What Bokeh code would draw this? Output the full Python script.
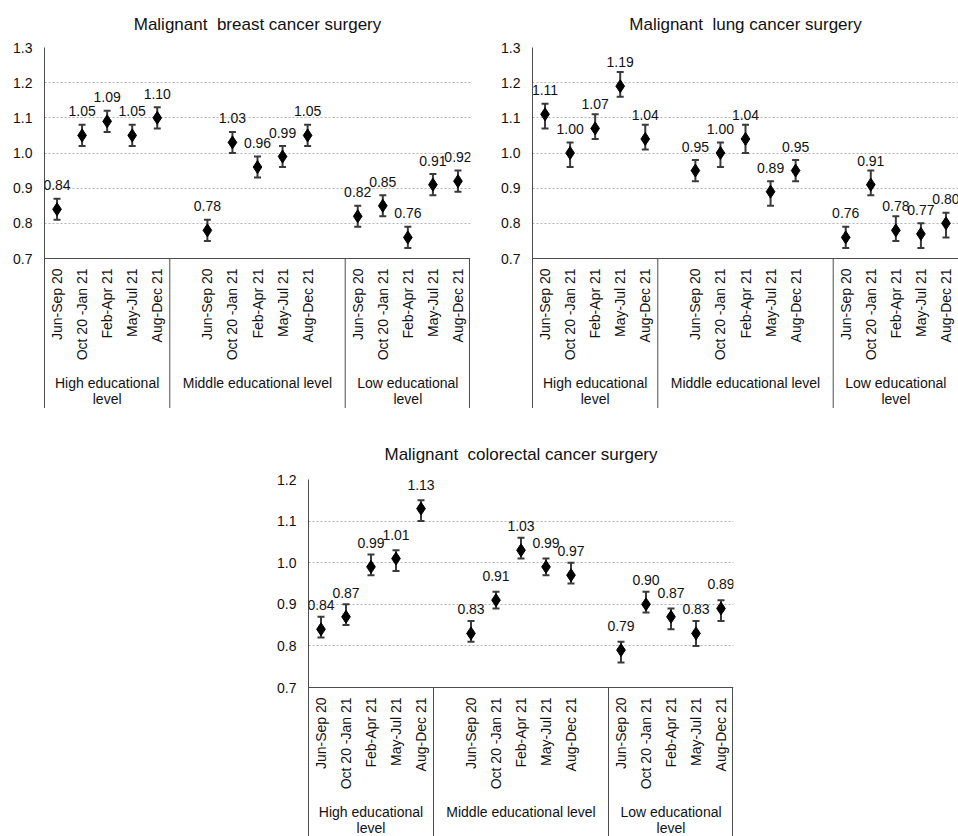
import math
from bokeh.plotting import figure
from bokeh.models import (FactorRange, ColumnDataSource, Whisker, TeeHead, FixedTicker,
                          PrintfTickFormatter, Span, LabelSet, Spacer, Range1d)
from bokeh.layouts import column, row
from bokeh.embed import file_html
from bokeh.resources import INLINE
from bokeh.core.properties import value

# ---------------- data ----------------
periods = ["Jun-Sep 20", "Oct 20 -Jan 21", "Feb-Apr 21", "May-Jul 21", "Aug-Dec 21"]
levels = ["High educational level", "Middle educational level", "Low educational level"]
level_labels = ["High educational\nlevel", "Middle educational level", "Low educational\nlevel"]

breast_values = [0.84, 1.05, 1.09, 1.05, 1.10,
                 0.78, 1.03, 0.96, 0.99, 1.05,
                 0.82, 0.85, 0.76, 0.91, 0.92]
breast_lower = [0.81, 1.02, 1.06, 1.02, 1.07,
                0.75, 1.00, 0.93, 0.96, 1.02,
                0.79, 0.82, 0.73, 0.88, 0.89]
breast_upper = [0.87, 1.08, 1.12, 1.08, 1.13,
                0.81, 1.06, 0.99, 1.02, 1.08,
                0.85, 0.88, 0.79, 0.94, 0.95]

lung_values = [1.11, 1.00, 1.07, 1.19, 1.04,
               0.95, 1.00, 1.04, 0.89, 0.95,
               0.76, 0.91, 0.78, 0.77, 0.80]
lung_lower = [1.07, 0.96, 1.04, 1.16, 1.01,
              0.92, 0.96, 1.00, 0.85, 0.92,
              0.73, 0.88, 0.75, 0.73, 0.76]
lung_upper = [1.14, 1.03, 1.11, 1.23, 1.08,
              0.98, 1.03, 1.08, 0.92, 0.98,
              0.79, 0.95, 0.82, 0.80, 0.83]

colorectal_values = [0.84, 0.87, 0.99, 1.01, 1.13,
                     0.83, 0.91, 1.03, 0.99, 0.97,
                     0.79, 0.90, 0.87, 0.83, 0.89]
colorectal_lower = [0.82, 0.85, 0.97, 0.98, 1.10,
                    0.81, 0.89, 1.01, 0.97, 0.95,
                    0.76, 0.88, 0.84, 0.80, 0.86]
colorectal_upper = [0.87, 0.90, 1.02, 1.03, 1.15,
                    0.86, 0.93, 1.06, 1.01, 1.00,
                    0.81, 0.93, 0.89, 0.86, 0.91]

ticks_top = [0.7, 0.8, 0.9, 1.0, 1.1, 1.2, 1.3]
ticks_bottom = [0.7, 0.8, 0.9, 1.0, 1.1, 1.2]

FONT = "Liberation Sans"
AXIS_COLOR = "#4d4d4d"
BAR_COLOR = "#3a3a3a"


def make_chart(title, values, lower, upper, ticks, width, height,
               border_left, border_right, border_top, ppu, title_standoff, right_border=True):
    factors = []
    for lv in levels:
        if lv == levels[1]:
            factors.append((lv, "pad_a"))
        for pr in periods:
            factors.append((lv, pr))
        if lv == levels[1]:
            factors.append((lv, "pad_b"))
    x_range = FactorRange(*factors, factor_padding=0, group_padding=0, range_padding=0)

    frame_h = height - border_top
    y_top = ticks[-1]
    base = ticks[0]
    y_start = y_top - frame_h / ppu

    def px(d):
        return d / ppu

    p = figure(x_range=x_range, y_range=Range1d(y_start, y_top),
               width=width, height=height, output_backend="svg",
               toolbar_location=None, x_axis_location=None,
               min_border_left=border_left, min_border_right=border_right,
               min_border_top=border_top, min_border_bottom=0)
    p.outline_line_color = None
    p.background_fill_color = "white"
    p.border_fill_color = "white"

    p.title.text = title
    p.title.align = "center"
    p.title.vertical_align = "top"
    p.title.text_font = FONT
    p.title.text_font_size = "17px"
    p.title.text_font_style = "normal"
    p.title.text_color = "#111111"
    p.title.standoff = title_standoff

    ax = p.yaxis[0]
    ax.ticker = FixedTicker(ticks=ticks)
    ax.formatter = PrintfTickFormatter(format="%.1f")
    ax.major_tick_line_color = None
    ax.minor_tick_line_color = None
    ax.major_tick_out = 0
    ax.major_tick_in = 0
    ax.major_label_standoff = 12
    ax.axis_line_color = AXIS_COLOR
    ax.major_label_text_font = FONT
    ax.major_label_text_font_size = "14px"
    ax.major_label_text_color = "#111111"

    p.xgrid.visible = False
    p.ygrid.ticker = FixedTicker(ticks=ticks[1:])
    p.ygrid.grid_line_color = "#b3b3b3"
    p.ygrid.grid_line_dash = "2 2"
    p.ygrid.grid_line_width = 1

    p.add_layout(Span(location=base, dimension="width", line_color=AXIS_COLOR, line_width=1))

    sep_x = [(levels[0], periods[-1], 0.5), (levels[1], "pad_b", 0.5)]
    if right_border:
        sep_x.append((levels[2], periods[-1], 0.46))
    seps = ColumnDataSource(dict(x=sep_x, y0=[base] * len(sep_x), y1=[y_start] * len(sep_x)))
    p.segment(x0="x", y0="y0", x1="x", y1="y1", source=seps, line_color=AXIS_COLOR, line_width=1)

    xs = [(lv, pr) for lv in levels for pr in periods]
    src = ColumnDataSource(dict(x=xs, y=values, lower=lower, upper=upper,
                                label=["%.2f" % v for v in values]))

    wh = Whisker(source=src, base="x", upper="upper", lower="lower", dimension="height",
                 line_color=BAR_COLOR, line_width=2, level="underlay",
                 upper_head=TeeHead(size=7, line_color=BAR_COLOR, line_width=2),
                 lower_head=TeeHead(size=7, line_color=BAR_COLOR, line_width=2))
    p.add_layout(wh)

    p.scatter(x="x", y="y", source=src, marker="diamond", size=13,
              fill_color="black", line_color="black")

    labels = LabelSet(x="x", y="y", text="label", source=src, y_offset=24,
                      text_align="center", text_baseline="middle",
                      text_font=value(FONT), text_font_size="14px", text_color="#111111")
    p.add_layout(labels)

    sub = ColumnDataSource(dict(x=xs, y=[base - px(10)] * len(xs), text=periods * 3))
    p.text(x="x", y="y", text="text", source=sub, angle=math.pi / 2,
           text_align="right", text_baseline="middle",
           text_font=value(FONT), text_font_size="14px", text_color="#111111")

    grp = ColumnDataSource(dict(x=levels, y=[base - px(116)] * 3, text=level_labels))
    p.text(x="x", y="y", text="text", source=grp, text_align="center", text_baseline="top",
           text_line_height=1.0,
           text_font=value(FONT), text_font_size="14px", text_color="#111111")
    return p


p1 = make_chart("Malignant\u00a0 breast cancer surgery", breast_values, breast_lower, breast_upper,
                ticks_top, width=480, height=408, border_left=44, border_right=10,
                border_top=47, ppu=211 / 0.6, title_standoff=24)
p2 = make_chart("Malignant\u00a0 lung cancer surgery", lung_values, lung_lower, lung_upper,
                ticks_top, width=478, height=408, border_left=52, border_right=0,
                border_top=47, ppu=211 / 0.6, title_standoff=24, right_border=False)
p3 = make_chart("Malignant\u00a0 colorectal cancer surgery", colorectal_values, colorectal_lower,
                colorectal_upper, ticks_bottom, width=483, height=408, border_left=48,
                border_right=10, border_top=51, ppu=208 / 0.5, title_standoff=27)

layout = column(row(p1, p2),
                Spacer(width=958, height=20),
                row(Spacer(width=260, height=408), p3))

open("out.html", "w").write(file_html(layout, INLINE))
